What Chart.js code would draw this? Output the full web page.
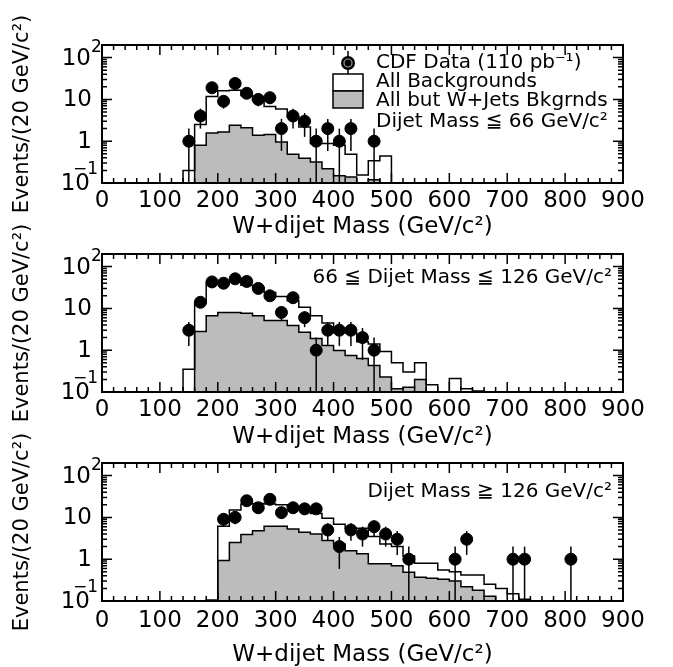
<!DOCTYPE html>
<html>
<head>
<meta charset="utf-8">
<script src="https://cdn.jsdelivr.net/npm/chart.js@4.4.0/dist/chart.umd.min.js"></script>
<style>
  body { margin: 0; background: #fff; }
  #wrap { position: relative; width: 673px; height: 667px; overflow: hidden; }
  canvas { position: absolute; left: 0; }
</style>
</head>
<body>
<div id="wrap">
  <canvas id="c1" width="673" height="240" style="top:0px"></canvas>
  <canvas id="c2" width="673" height="240" style="top:209px"></canvas>
  <canvas id="c3" width="673" height="249" style="top:418px"></canvas>
</div>
<script>
var binWidth = 20;
var xTickValues = [0, 100, 200, 300, 400, 500, 600, 700, 800, 900];
var yTickValues = [0.1, 1, 10, 100];
var yTickBase = ['10', '1', '10', '10'];
var yTickExp = ['\u22121', '', '', '2'];

// panel 1 : dijet mass <= 66
var bkgStart1 = 140;
var allBkg1 = [0.2, 2.5, 11.8, 16, 16.5, 12.4, 9.5, 6.8, 5.9, 3.8, 2.2, 0.88, 0.88, 0.8, 0.49, 0.155, 0.34, 0.44];
var nonWStart1 = 160;
var nonW1 = [0.8, 1.58, 1.66, 2.4, 2.1, 1.38, 1.45, 0.96, 0.49, 0.39, 0.32, 0.22, 0.15, 0.14, 0, 0.12];
var dataMass1 = [150, 170, 190, 210, 230, 250, 270, 290, 310, 330, 350, 370, 390, 410, 430, 470];
var dataEvents1 = [1, 4, 19, 9, 24, 14, 10, 11, 2, 4, 3, 1, 2, 1, 2, 1];

// panel 2 : 66 <= dijet mass <= 126
var bkgStart2 = 140;
var allBkg2 = [0.35, 13.4, 40, 40, 42, 36, 32, 24, 19.3, 15.2, 10.6, 6.7, 4.5, 2.6, 2.6, 1.6, 1.4, 0.93, 0.5, 0.3, 0.5, 0.15, 0, 0.21, 0.12, 0.105];
var nonWStart2 = 160;
var nonW2 = [2.8, 6.7, 8, 8, 7.6, 6.7, 5.1, 5.1, 3.9, 2.7, 1.9, 1.3, 0.98, 0.75, 0.63, 0.43, 0.23, 0.12, 0.13, 0.2];
var dataMass2 = [150, 170, 190, 210, 230, 250, 270, 290, 310, 330, 350, 370, 390, 410, 430, 450, 470];
var dataEvents2 = [3, 14, 43, 40, 51, 44, 30, 20, 8, 18, 6, 1, 3, 3, 3, 2, 1];

// panel 3 : dijet mass >= 126
var bkgStart3 = 180;
var allBkg3 = [0.105, 6.1, 15, 21, 21.5, 21, 20, 18, 15.8, 12.4, 9.6, 6.9, 5.5, 5.5, 3.5, 2.3, 2, 1.2, 0.8, 0.8, 0.55, 0.5, 0.42, 0.42, 0.25, 0.2, 0.15, 0.11];
var nonWStart3 = 200;
var nonW3 = [0.93, 2.5, 3.9, 4.8, 6.1, 6.1, 5.3, 4.4, 4, 2.8, 2.3, 1.6, 1.35, 0.78, 0.78, 0.7, 0.49, 0.37, 0.35, 0.33, 0.3, 0.22, 0.18, 0.13];
var dataMass3 = [210, 230, 250, 270, 290, 310, 330, 350, 370, 390, 410, 430, 450, 470, 490, 510, 530, 610, 630, 710, 730, 810];
var dataEvents3 = [9, 10, 25, 17, 27, 13, 17, 16, 16, 5, 2, 5, 4, 6, 4, 3, 1, 1, 3, 1, 1, 1];

var FLOOR = 0.01;   // stands in for empty bins on the log axis
var FONT = 'DejaVu Sans';
var GRAY = '#bcbcbc';

function histPoints(start, vals) {
  var pts = [{ x: start, y: FLOOR }];
  vals.forEach(function (v, i) {
    pts.push({ x: start + i * binWidth, y: v > 0 ? v : FLOOR });
  });
  var last = vals[vals.length - 1];
  var end = start + vals.length * binWidth;
  pts.push({ x: end, y: last > 0 ? last : FLOOR });
  pts.push({ x: end, y: FLOOR });
  return pts;
}

function dataPoints(xs, ns) {
  return xs.map(function (x, i) { return { x: x, y: ns[i] }; });
}

// frame, inward ticks, error bars, labels
var deco = {
  id: 'deco',
  afterDatasetsDraw: function (chart) {
    var ctx = chart.ctx, a = chart.chartArea, ys = chart.scales.y;
    var meta = chart.getDatasetMeta(0);
    ctx.save();
    ctx.beginPath();
    ctx.rect(a.left, a.top, a.right - a.left, a.bottom - a.top);
    ctx.clip();
    ctx.strokeStyle = '#000';
    ctx.lineWidth = 1.5;
    chart.data.datasets[0].data.forEach(function (p, i) {
      var el = meta.data[i];
      var err = Math.sqrt(p.y);
      var lo = p.y - err;
      var yLo = lo > 0 ? ys.getPixelForValue(lo) : a.bottom + 2;
      var yHi = ys.getPixelForValue(p.y + err);
      ctx.beginPath();
      ctx.moveTo(el.x, yLo);
      ctx.lineTo(el.x, yHi);
      ctx.stroke();
    });
    ctx.restore();
  },
  afterDraw: function (chart, args, opts) {
    var ctx = chart.ctx, a = chart.chartArea;
    var xs = chart.scales.x, ys = chart.scales.y;
    ctx.save();
    ctx.strokeStyle = '#000';
    ctx.lineWidth = 1.5;
    ctx.beginPath();
    for (var v = 0; v <= 900; v += 20) {
      var px = xs.getPixelForValue(v);
      var len = v % 100 === 0 ? 10 : 5;
      ctx.moveTo(px, a.bottom); ctx.lineTo(px, a.bottom - len);
      ctx.moveTo(px, a.top); ctx.lineTo(px, a.top + len);
    }
    for (var d = -1; d <= 2; d++) {
      for (var m = 1; m <= 9; m++) {
        var val = m * Math.pow(10, d);
        if (val < ys.min || val > ys.max) continue;
        var py = ys.getPixelForValue(val);
        var l2 = m === 1 ? 10 : 5;
        ctx.moveTo(a.left, py); ctx.lineTo(a.left + l2, py);
        ctx.moveTo(a.right, py); ctx.lineTo(a.right - l2, py);
      }
    }
    ctx.stroke();
    ctx.lineWidth = 2;
    ctx.strokeRect(a.left, a.top, a.right - a.left, a.bottom - a.top);

    // log axis labels with raised exponents
    ctx.fillStyle = '#000';
    ctx.textBaseline = 'middle';
    yTickValues.forEach(function (tv, i) {
      var ty = ys.getPixelForValue(tv);
      ctx.textAlign = 'right';
      ctx.font = '23px "' + FONT + '"';
      if (yTickExp[i] === '') {
        ctx.fillText(yTickBase[i], a.left - 10, ty + 1);
      } else if (tv < 1) {
        ctx.fillText(yTickBase[i], a.left - 12, ty + 1);
        ctx.font = '17px "' + FONT + '"';
        ctx.fillText(yTickExp[i], a.left - 4, ty - 13);
      } else {
        ctx.fillText(yTickBase[i], a.left - 11, ty + 1);
        ctx.font = '17px "' + FONT + '"';
        ctx.textAlign = 'left';
        ctx.fillText(yTickExp[i], a.left - 11, ty - 10);
      }
    });

    (opts.texts || []).forEach(function (t) {
      ctx.font = t.size + 'px "' + FONT + '"';
      ctx.textAlign = t.align || 'left';
      ctx.fillText(t.text, t.x, t.y);
    });

    if (opts.legend) {
      var lg = opts.legend;
      ctx.lineWidth = 1.5;
      ctx.beginPath();
      ctx.moveTo(lg.markerX, lg.markerY - 12);
      ctx.lineTo(lg.markerX, lg.markerY + 12);
      ctx.stroke();
      ctx.beginPath();
      ctx.arc(lg.markerX, lg.markerY, 7, 0, Math.PI * 2);
      ctx.fill();
      ctx.strokeStyle = '#999';
      ctx.lineWidth = 1.2;
      ctx.beginPath();
      ctx.arc(lg.markerX, lg.markerY, 4, 0, Math.PI * 2);
      ctx.stroke();
      ctx.strokeStyle = '#000';
      ctx.lineWidth = 1.5;
      ctx.fillStyle = '#fff';
      ctx.fillRect(lg.boxX, lg.boxY, lg.boxW, lg.boxH);
      ctx.strokeRect(lg.boxX, lg.boxY, lg.boxW, lg.boxH);
      ctx.fillStyle = GRAY;
      ctx.fillRect(lg.boxX, lg.boxY + lg.boxH, lg.boxW, lg.boxH);
      ctx.strokeRect(lg.boxX, lg.boxY + lg.boxH, lg.boxW, lg.boxH);
    }
    ctx.restore();
  }
};

function makePanel(id, p) {
  return new Chart(document.getElementById(id), {
    type: 'line',
    data: {
      datasets: [
        { type: 'scatter', data: dataPoints(p.dataMass, p.dataEvents), showLine: false,
          backgroundColor: '#000', borderColor: '#000', pointRadius: 6, pointHoverRadius: 6 },
        { type: 'line', data: histPoints(p.bkgStart, p.allBkg), showLine: true, stepped: true,
          borderColor: '#000', borderWidth: 1.5, pointRadius: 0, fill: false },
        { type: 'line', data: histPoints(p.nonWStart, p.nonW), showLine: true, stepped: true,
          borderColor: '#000', borderWidth: 1.5, pointRadius: 0, fill: 'start', backgroundColor: GRAY }
      ]
    },
    options: {
      responsive: false,
      animation: false,
      events: [],
      layout: { padding: { left: 0, right: 50, top: 45, bottom: 0 } },
      plugins: {
        legend: { display: false },
        tooltip: { enabled: false },
        deco: { texts: p.texts, legend: p.legend }
      },
      scales: {
        x: {
          type: 'linear', min: 0, max: 900,
          afterBuildTicks: function (s) { s.ticks = xTickValues.map(function (v) { return { value: v }; }); },
          afterFit: function (s) { s.height = p.xAxisHeight; },
          grid: { display: false, drawTicks: false },
          border: { display: false },
          ticks: { padding: p.xTickPad, color: '#000', maxRotation: 0, autoSkip: false,
                   font: { family: FONT, size: 23 } },
          title: { display: true, text: 'W+dijet Mass (GeV/c\u00B2)', color: '#000',
                   font: { family: FONT, size: 23, lineHeight: 1 },
                   padding: { top: 0, bottom: p.xTitlePad } }
        },
        y: {
          type: 'logarithmic', min: 0.1, max: 200,
          afterBuildTicks: function (s) { s.ticks = yTickValues.map(function (v) { return { value: v }; }); },
          afterFit: function (s) { s.width = 102; },
          grid: { display: false, drawTicks: false },
          border: { display: false },
          ticks: { display: false },
          title: { display: true, text: 'Events/(20 GeV/c\u00B2)', color: '#000',
                   font: { family: FONT, size: 21, lineHeight: 1 },
                   padding: { top: 12, bottom: 0 } }
        }
      }
    },
    plugins: [deco]
  });
}

makePanel('c1', {
  bkgStart: bkgStart1, allBkg: allBkg1, nonWStart: nonWStart1, nonW: nonW1,
  dataMass: dataMass1, dataEvents: dataEvents1,
  xAxisHeight: 57, xTickPad: 4, xTitlePad: 1,
  legend: { markerX: 348, markerY: 63, boxX: 333, boxY: 74, boxW: 30, boxH: 17 },
  texts: [
    { text: 'CDF Data (110 pb\u207B\u00B9)', x: 376, y: 63, size: 20 },
    { text: 'All Backgrounds', x: 376, y: 82, size: 20 },
    { text: 'All but W+Jets Bkgrnds', x: 376, y: 101, size: 20 },
    { text: 'Dijet Mass \u2266 66 GeV/c\u00B2', x: 376, y: 122, size: 20 }
  ]
});

makePanel('c2', {
  bkgStart: bkgStart2, allBkg: allBkg2, nonWStart: nonWStart2, nonW: nonW2,
  dataMass: dataMass2, dataEvents: dataEvents2,
  xAxisHeight: 57, xTickPad: 4, xTitlePad: 0,
  texts: [
    { text: '66 \u2266 Dijet Mass \u2266 126 GeV/c\u00B2', x: 612, y: 69, size: 20, align: 'right' }
  ]
});

makePanel('c3', {
  bkgStart: bkgStart3, allBkg: allBkg3, nonWStart: nonWStart3, nonW: nonW3,
  dataMass: dataMass3, dataEvents: dataEvents3,
  xAxisHeight: 66, xTickPad: 6, xTitlePad: 0,
  texts: [
    { text: 'Dijet Mass \u2267 126 GeV/c\u00B2', x: 612, y: 74, size: 20, align: 'right' }
  ]
});
</script>
</body>
</html>
